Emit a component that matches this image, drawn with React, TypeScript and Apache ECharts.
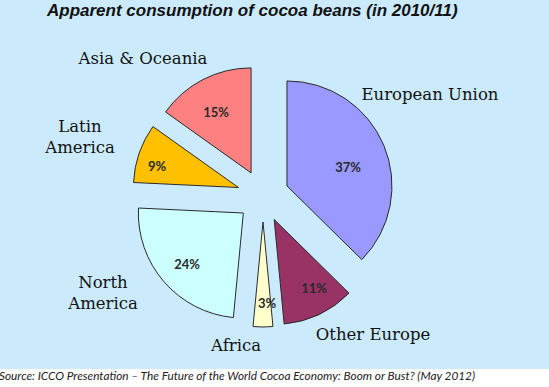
import React, { useEffect, useRef } from 'react';
import * as echarts from 'echarts';

const categories = ['European Union', 'Other Europe', 'Africa', 'North America', 'Latin America', 'Asia & Oceania'];
const shares = [37, 11, 3, 24, 9, 15];
const colors = ['#9999FF', '#993366', '#FFFFCC', '#CCFFFF', '#FFC000', '#FF8080'];
const titleText = 'Apparent consumption of cocoa beans (in 2010/11)';
const sourceText = 'Source: ICCO Presentation \u2013 The Future of the World Cocoa Economy: Boom or Bust? (May 2012)';

// label placement (layout only)
const pctLabelPos = [[348, 167], [314, 288], [267, 303], [187, 264], [157, 166], [216, 112]];
const nameLabelPos = [[430, 94], [373, 334], [236, 345], [103, 293], [80, 137], [143, 58]];

export default function App() {
  const ref = useRef<HTMLDivElement>(null);
  useEffect(() => {
    if (!ref.current) return;
    const chart = echarts.init(ref.current, null, { renderer: 'svg' });
    const data = categories.map((name, i) => ({
      name,
      value: shares[i],
      selected: true,
      itemStyle: { color: colors[i] },
      select: { itemStyle: { color: colors[i], borderColor: '#2a2a2a', borderWidth: 1 } },
    }));
    const pctTexts = shares.map((v, i) => ({
      type: 'text',
      x: pctLabelPos[i][0],
      y: pctLabelPos[i][1],
      z: 10,
      silent: true,
      style: {
        text: v + '%',
        align: 'center',
        verticalAlign: 'middle',
        font: 'bold 13px Lato',
        fill: '#2a2a2a',
      },
    }));
    const nameTexts = categories.map((name, i) => ({
      type: 'text',
      x: nameLabelPos[i][0],
      y: nameLabelPos[i][1],
      z: 10,
      silent: true,
      style: {
        text: name.replace(' America', '\nAmerica'),
        align: 'center',
        verticalAlign: 'middle',
        font: '16.5px "DejaVu Serif"',
        lineHeight: 21,
        fill: '#111',
      },
    }));
    chart.setOption({
      animation: false,
      backgroundColor: '#ffffff',
      title: {
        text: titleText,
        left: 47,
        top: 2,
        padding: 0,
        textStyle: {
          fontFamily: 'Liberation Sans',
          fontSize: 17,
          fontWeight: 'bold',
          fontStyle: 'italic',
          color: '#111',
        },
      },
      graphic: [
        {
          type: 'rect',
          z: -10,
          shape: { x: 0, y: 0, width: 549, height: 369 },
          style: { fill: '#CBEBFD' },
          silent: true,
        },
        {
          type: 'text',
          left: -1,
          top: 369,
          style: {
            text: sourceText,
            font: 'italic 11.8px Lato',
            fill: '#222',
          },
          silent: true,
        },
        ...pctTexts,
        ...nameTexts,
      ],
      series: [
        {
          type: 'pie',
          center: [263, 196],
          radius: 105,
          startAngle: 90,
          clockwise: true,
          selectedMode: 'multiple',
          selectedOffset: 26,
          avoidLabelOverlap: false,
          emphasis: { disabled: true },
          itemStyle: { borderColor: '#2a2a2a', borderWidth: 1 },
          label: { show: false },
          labelLine: { show: false },
          data,
        },
      ],
    });
    return () => chart.dispose();
  }, []);
  return (
    <div
      ref={ref}
      style={{ position: 'fixed', left: 0, top: 0, width: 549, height: 387 }}
    />
  );
}
